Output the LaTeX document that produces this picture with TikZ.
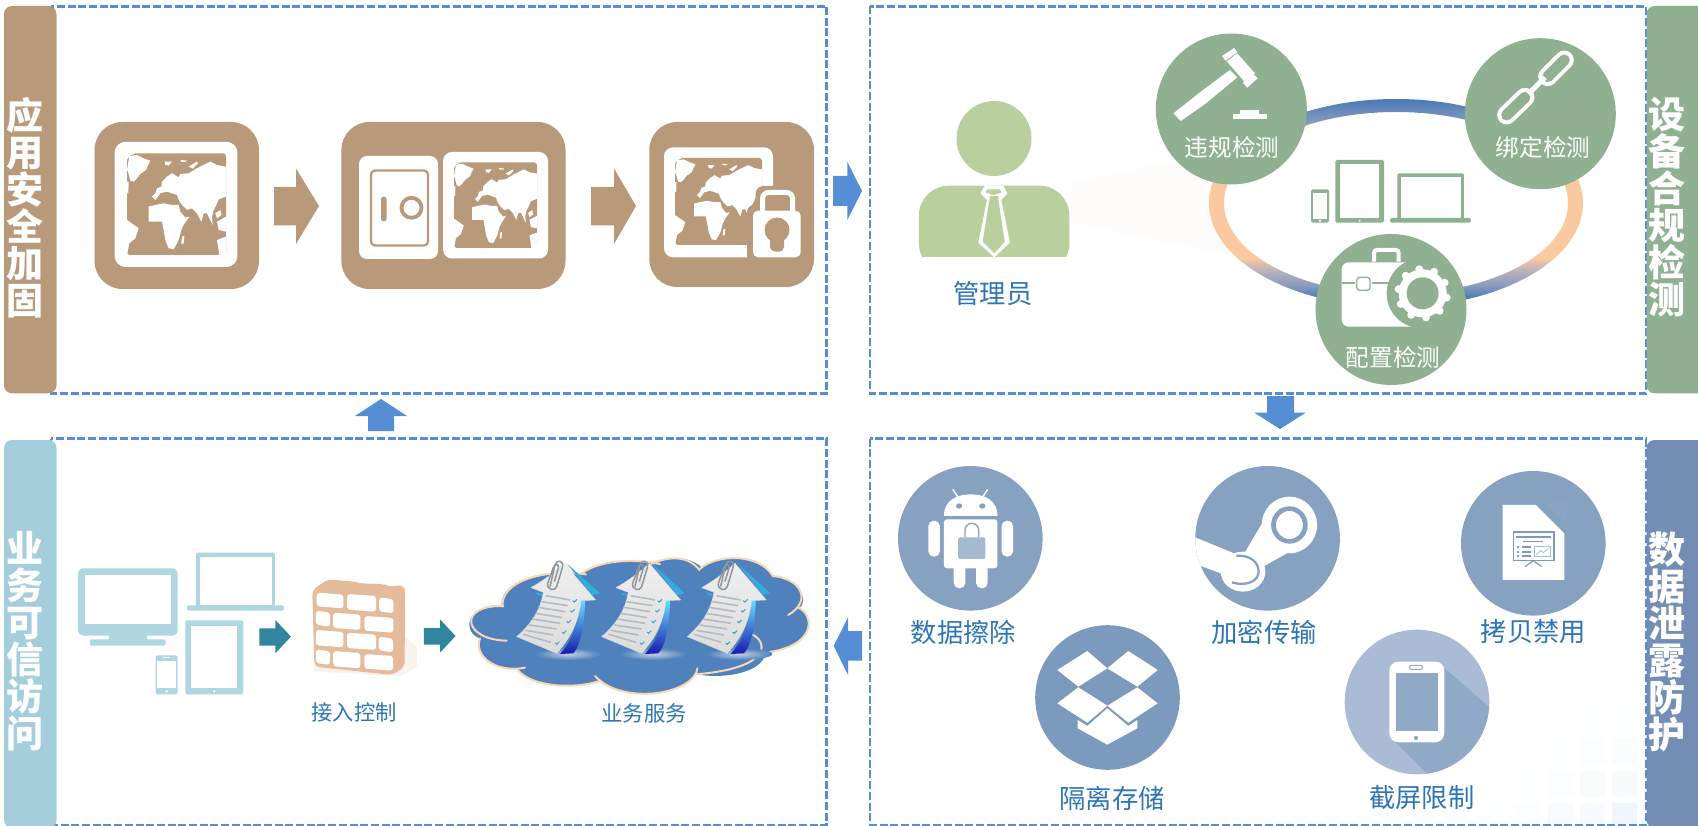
\documentclass[tikz,border=0pt]{standalone}
\usepackage{fontspec}
\newfontfamily\cjk{Noto Sans CJK SC}
\usetikzlibrary{shadings}
\definecolor{tan}{HTML}{B89A7B}
\definecolor{sage}{HTML}{8FB191}
\definecolor{sky}{HTML}{A4CEDC}
\definecolor{slateb}{HTML}{748DB5}
\definecolor{dashb}{HTML}{558ED5}
\definecolor{lblue}{HTML}{2E75B6}
\definecolor{devb}{HTML}{B0D6E2}
\definecolor{tealb}{HTML}{31859C}
\definecolor{leaf}{HTML}{B9D09E}
\definecolor{brick}{HTML}{E6BB9B}
\definecolor{cloudb}{HTML}{4F81BD}
\definecolor{peach}{HTML}{FCD5B5}
\definecolor{c1}{HTML}{87A1C1}
\definecolor{c2}{HTML}{7C9ABD}
\definecolor{c3}{HTML}{A9BBD5}
\definecolor{c4}{HTML}{90A9C7}
\definecolor{ringblue}{HTML}{4A79B8}
\definecolor{ringmid}{HTML}{8A9DBD}
\definecolor{ringor}{HTML}{FBC9A0}
\definecolor{ringgray}{HTML}{BDB2BA}
\definecolor{docline}{HTML}{B4BBC0}
\definecolor{check}{HTML}{3E9CC8}
\definecolor{clipg}{HTML}{8F9599}
\pgfdeclareverticalshading{ringsh}{100bp}{color(0bp)=(ringblue);color(25bp)=(ringblue);color(27bp)=(ringblue);color(30.3bp)=(ringmid);color(33.9bp)=(ringgray);color(36.8bp)=(ringor);color(65bp)=(ringor);color(69bp)=(ringmid);color(75bp)=(ringblue);color(100bp)=(ringblue)}
\tikzset{
  x=1pt,y=-1pt,
  panelbox/.style={draw=dashb,line width=2.6pt,dash pattern=on 8pt off 2.7pt},
  sidetext/.style={text=white,font=\cjk\bfseries\fontsize{37}{37}\selectfont,align=center,inner sep=0pt},
  lab/.style={text=lblue,font=\cjk\fontsize{26.3}{30}\selectfont,inner sep=0pt},
  smalllab/.style={text=lblue,font=\cjk\fontsize{21.3}{26}\selectfont,inner sep=0pt},
  whitelab/.style={text=white,font=\cjk\fontsize{23.6}{28}\selectfont,inner sep=0pt},
  z1/.style={shift={(70,90)},xscale=.4464,yscale=.3384},
  z2/.style={shift={(820,20)},xscale=.4337,yscale=.3333},
  z3/.style={shift={(60,490)},xscale=.4464,yscale=.3333},
  z4/.style={shift={(810,420)},xscale=.4464,yscale=.3333},
  z6/.style={shift={(1280,20)},xscale=.3333,yscale=.3333},
  z7/.style={shift={(1280,430)},xscale=.3333,yscale=.3333},
  z8/.style={shift={(460,540)},xscale=.3333,yscale=.3333},
  z9/.style={shift={(0,380)},xscale=.3333,yscale=.3333},
  z10/.style={shift={(1000,600)},xscale=.3333,yscale=.3333},
}
% world map drawn in a 297 x 305 box whose corner is (15,10)
\newcommand{\worldmapicon}[4]{%
\begin{scope}[shift={(#1,#2)},xscale=#3/297,yscale=#4/305,shift={(-15,-10)}]
\fill[tan,rounded corners=3pt] (15,10) rectangle (312,315);
\fill[white] (15,10)--(40,10)--(22,18)--(15,30)--cycle;
\fill[white] (22,18)--(45,15)--(65,25)--(85,32)--(78,45)--(72,60)--(55,72)--(45,85)--(35,95)--(25,92)--(18,65)--(15,60)--cycle;
\fill[white] (90,140)--(100,130)--(105,115)--(118,110)--(120,95)--(135,80)--(150,70)--(170,82)--(175,72)--(200,70)--(225,55)--(250,42)--(265,35)--(285,45)--(312,50)--(312,140)--(290,148)--(283,165)--(275,180)--(270,200)--(272,225)--(262,205)--(255,190)--(245,190)--(238,215)--(225,190)--(210,175)--(195,180)--(180,165)--(170,150)--(165,135)--(150,130)--(135,125)--(115,130)--(100,150)--cycle;
\fill[white] (80,170)--(100,165)--(125,160)--(150,165)--(170,165)--(175,185)--(190,203)--(202,200)--(185,225)--(178,240)--(170,270)--(155,298)--(140,295)--(130,270)--(125,240)--(120,215)--(80,215)--cycle;
\fill[white] (180,260)--(187,258)--(185,280)--(178,282)--cycle;
\fill[white] (285,215)--(312,200)--(312,245)--(290,240)--cycle;
\fill[white] (280,190)--(295,180)--(298,195)--(285,205)--cycle;
\fill[white] (128,35)--(150,35)--(140,47)--(130,45)--cycle;
\fill[white] (175,30)--(195,32)--(190,36)--(178,35)--cycle;
\fill[white] (200,50)--(225,35)--(228,40)--(212,56)--cycle;
\fill[white] (15,95)--(20,95)--(19,130)--(15,130)--cycle;
\fill[white] (15,210)--(50,235)--(40,265)--(22,280)--(15,315)--cycle;
\fill[white] (312,260)--(285,270)--(292,315)--(312,315)--cycle;
\end{scope}}
% document arrow, in crop coordinates of the first document
\newcommand{\docarrow}[1]{%
\begin{scope}[shift={(#1+135,45)}]
\shade[inner color=c4!55!white,outer color=cloudb] (190,297) ellipse [x radius=100,y radius=18];
\fill[blue!30!cyan!85!black!80!white] (185,25)--(285,115)--(262,120)--cycle;
\fill[blue!30!cyan!85!black!80!white] (92,112)--(115,118)--(112,124)--(98,120)--cycle;
\shade[top color=blue!20!cyan!60!white,bottom color=blue!65!black!90!white] (226,135)--(240,135) .. controls (240,200) and (228,270) .. (205,295)--(165,297) .. controls (205,255) and (222,195) .. (226,135)--cycle;
\shade[top color=gray!12,bottom color=gray!28,draw=white!70!gray,line width=.4pt] (178,25)--(272,135)--(228,137) .. controls (222,190) and (205,240) .. (155,295)--(35,245) .. controls (75,210) and (105,170) .. (115,112)--(78,98) .. controls (110,80) and (145,55) .. (178,25)--cycle;
\foreach \la/\lb/\ra/\rb in {122/122/195/135,110/140/188/152,100/157/180/170,92/175/172/188,82/192/165/205,72/210/155/222,62/226/145/240,55/238/138/262}{\draw[docline,line width=1.6pt] (\la,\lb)--(\ra,\rb);}
\foreach \a/\b in {210/138,203/168,192/200,178/232,157/265}{\draw[check,line width=1pt] (\a-7,\b-1)--(\a-2,\b+3)--(\a+6,\b-5);}
\draw[clipg,line width=1.5pt,line join=round] (135,95)--(150,30) .. controls (155,12) and (178,15) .. (172,38)--(155,95) .. controls (150,110) and (125,105) .. (128,85)--(145,38) .. controls (148,25) and (163,25) .. (160,40)--(148,80);
\end{scope}}
\begin{document}
\begin{tikzpicture}
\useasboundingbox (0,0) rectangle (1698,826);
% faint squares in the lower right
\foreach \a/\b/\c/\d/\f in {900/825/975/905/1,997/825/1072/905/1,803/925/878/1005/1,900/925/975/1005/2,997/925/1072/1005/3,705/1022/780/1100/1,803/1022/878/1100/2,900/1022/975/1100/4,997/1022/1072/1100/5,620/1120/680/1185/1,705/1120/780/1185/2,803/1120/878/1185/4,900/1120/975/1185/5,997/1120/1072/1185/8}{
  \begin{scope}[z7]\fill[dashb!\f!white] (\a,\b) rectangle (\c,\d);\end{scope}}
% panels
\draw[panelbox] (51,6.5) rectangle (826.7,393.3);
\draw[panelbox] (870,6.5) rectangle (1646,393.3);
\draw[panelbox] (51,438.7) rectangle (826.7,825);
\draw[panelbox] (870,438.7) rectangle (1646,825);
% side bars
\fill[tan,rounded corners=8pt] (4,6) rectangle (56.5,393.3);
\fill[sky,rounded corners=8pt] (4,440) rectangle (56.5,828);
\fill[sage,rounded corners=8pt] (1646.5,6) rectangle (1710,393.3);
\fill[slateb,rounded corners=8pt] (1646.5,440) rectangle (1710,828);
\node[sidetext] (tl) at (24.5,207.5) {应\\用\\安\\全\\加\\固};
\node[sidetext] (tr) at (1667,207.5) {设\\备\\合\\规\\检\\测};
\node[sidetext] (bl) at (24.5,641.5) {业\\务\\可\\信\\访\\问};
\node[sidetext] (br) at (1667,641.5) {数\\据\\泄\\露\\防\\护};
% block arrows between panels
\fill[dashb] (833,176)--(847.3,176)--(847.3,161.7)--(862,191)--(847.3,220)--(847.3,206)--(833,206)--cycle;
\fill[dashb] (1267,396)--(1294,396)--(1294,412.5)--(1306,412.5)--(1280,429)--(1254,412.5)--(1267,412.5)--cycle;
\fill[dashb] (368,431)--(394,431)--(394,416)--(407,416)--(381,399)--(355,416)--(368,416)--cycle;
\fill[dashb] (862,631)--(848,631)--(848,617.3)--(833.7,646)--(848,675)--(848,660.7)--(862,660.7)--cycle;
% tiles
\fill[tan,rounded corners=28pt] (94.5,122) rectangle (259,289);
\fill[white,rounded corners=11pt] (114.6,141.8) rectangle (237.4,267);
\worldmapicon{127}{153.3}{99}{101.7}
\fill[tan,rounded corners=28pt] (341.4,122) rectangle (565.5,289);
\fill[white,rounded corners=8pt] (359,156) rectangle (438,259);
\draw[tan,line width=2.2pt,rounded corners=4pt] (371,170.5) rectangle (428,245.5);
\fill[tan,rounded corners=2.5pt] (381,196.6) rectangle (386.5,221.3);
\draw[tan,line width=3.8pt] (411.5,207.8) circle [radius=10];
\fill[white,rounded corners=9pt] (443,152) rectangle (548,258.5);
\worldmapicon{454}{162.4}{83}{85.6}
\fill[tan,rounded corners=28pt] (649.3,122) rectangle (814,287);
\fill[white,rounded corners=9pt] (664,147.3) rectangle (773,257.3);
\worldmapicon{675}{158}{87}{87}
\fill[tan,rounded corners=7pt] (747,205) rectangle (808,270);
\fill[tan,rounded corners=8pt] (755.5,186) rectangle (800,215);
\fill[white,rounded corners=5pt] (753,210.7) rectangle (800.7,257.3);
\draw[white,line width=5pt,rounded corners=6pt] (762.5,212)--(762.5,192.5)--(792.5,192.5)--(792.5,212);
\fill[tan] (777,230) circle [radius=12.5];
\fill[tan,rounded corners=5pt] (770,232) rectangle (784,251.7);
% tile arrows
\fill[tan] (274,187)--(296,187)--(296,168.5)--(319,206)--(296,244)--(296,225.4)--(274,225.4)--cycle;
\fill[tan] (591,187)--(614,187)--(614,168.5)--(636,206)--(614,244)--(614,225.4)--(591,225.4)--cycle;
% administrator
\fill[white!97!tan] (1071.5,183)--(1188.6,158)--(1236,256.7)--(1069,221.7)--cycle;
\fill[leaf] (994,138.5) circle [radius=37.5];
\begin{scope}[z2]
\fill[leaf,rounded corners=30pt] (228,760)--(228,497)--(575,497)--(575,760)--cycle;
\fill[white] (220,712) rectangle (585,770);
\fill[white] (380,497)--(422,497)--(432,520)--(418,540)--(438,668)--(402,712)--(365,668)--(385,540)--(370,520)--cycle;
\fill[leaf] (385,508)--(415,508)--(418,518)--(400,525)--(382,518)--cycle;
\fill[leaf] (392,528)--(410,528)--(426,665)--(402,700)--(375,665)--cycle;
\end{scope}
\node[lab] (admin) at (993,294) {管理员};
% ring
\path[even odd rule,shade,shading=ringsh] (1396,203) ellipse [x radius=187,y radius=104] (1396,203) ellipse [x radius=172,y radius=91];
% devices in ring
\begin{scope}[z6]
\fill[sage,rounded corners=1.5pt] (93,508) rectangle (147,608);
\fill[white] (98,520) rectangle (142,597);
\fill[sage,rounded corners=1.5pt] (166,420) rectangle (312,608);
\fill[white] (181,433) rectangle (298,595);
\fill[sage,rounded corners=2pt] (352,460) rectangle (552,600);
\fill[white] (362,472) rectangle (543,594);
\fill[sage,rounded corners=2pt] (330,594) rectangle (573,608);
\fill[white] (120,602) circle [radius=4];
\fill[white] (239,602) circle [radius=3];
\end{scope}
% circles
\fill[sage] (1231.3,109) circle [radius=75.5];
\fill[sage] (1540.3,113.7) circle [radius=75.5];
\fill[sage] (1391,309.5) circle [radius=75.5];
% gavel
\begin{scope}[z2]
\fill[white] (927,108)--(955,84)--(962,97)--(935,122)--cycle;
\fill[white] (938,124)--(962,100)--(1003,160)--(978,184)--cycle;
\fill[white] (975,188)--(1000,163)--(1009,175)--(985,203)--cycle;
\fill[white] (945,150)--(962,172)--(890,250)--(832,303)--(815,280)--(875,218)--cycle;
\fill[white] (952,283) rectangle (1030,298);
\fill[white] (968,270) rectangle (1012,284);
\end{scope}
% chain
\begin{scope}[z6]
\draw[white,line width=19pt,line cap=round] (803,170)--(853,120);
\draw[sage,line width=11pt,line cap=round] (803,170)--(853,120);
\draw[white,line width=19pt,line cap=round] (680,285)--(735,232);
\draw[sage,line width=11pt,line cap=round] (680,285)--(735,232);
\draw[white,line width=5pt] (745,222)--(795,172);
% tool case
\fill[white,rounded corners=7pt] (185,920)--(185,727)--(400,727)--(440,920)--cycle;
\draw[white,line width=4pt,rounded corners=3pt] (282,725)--(282,690)--(356,690)--(356,725);
\draw[sage,line width=1.3pt] (185,789)--(225,789) (275,789)--(330,789);
\fill[white,rounded corners=3pt] (225,768) rectangle (275,815);
\draw[sage,line width=1.3pt,rounded corners=3pt] (230,772) rectangle (270,811);
\fill[sage] (425,820) circle [radius=105];
\foreach \t in {0,36,...,324}{\fill[white] ({428+73*cos(\t+10)},{820+73*sin(\t+10)}) circle [radius=12];}
\fill[white] (428,820) circle [radius=72];
\fill[sage] (428,820) circle [radius=48];
\end{scope}
\node[whitelab] (v1) at (1232,147) {违规检测};
\node[whitelab] (v2) at (1543,147) {绑定检测};
\node[whitelab] (v3) at (1393,357) {配置检测};
% access devices
\begin{scope}[z9]
\fill[devb,rounded corners=5pt] (234,565) rectangle (533,767);
\fill[white] (254,585) rectangle (513,731);
\fill[devb] (327,760) rectangle (440,780);
\fill[devb,rounded corners=2pt] (270,778) rectangle (497,797);
\fill[devb,rounded corners=2pt] (588,518) rectangle (825,680);
\fill[white] (600,532) rectangle (815,676);
\fill[devb,rounded corners=2pt] (561,676) rectangle (852,692);
\fill[devb,rounded corners=1.5pt] (556,721) rectangle (730,943);
\fill[white] (574,738) rectangle (712,925);
\fill[white] (643,934) circle [radius=3.5];
\fill[devb,rounded corners=1.5pt] (467,826) rectangle (533,943);
\fill[white] (472,842) rectangle (528,925);
\fill[white] (500,934) circle [radius=4];
\fill[white] (490,832) rectangle (510,835);
\fill[tealb] (778,745)--(826,745)--(826,720)--(873,770)--(826,820)--(826,797)--(778,797)--cycle;
\end{scope}
\fill[tealb] (423.8,628)--(440,628)--(440,619.3)--(455.5,636)--(440,652.7)--(440,644.7)--(423.8,644.7)--cycle;
% firewall
\begin{scope}[z3]
\fill[brick!18!white] (770,440)--(800,470)--(800,530)--(765,558)--(570,545)--(570,520)--cycle;
\fill[brick,rounded corners=5pt] (600,268)--(660,275)--(670,280)--(725,282)--(735,290)--(770,285)--(773,300)--(772,530)--(745,555)--(570,530)--(565,300)--cycle;
\foreach \xa/\ya/\xb/\yb in {575/308/635/355,643/312/708/365,715/322/747/370,573/362/605/410,612/368/673/420,682/378/747/428,573/420/635/472,643/428/708/480,714/440/746/487,573/478/605/525,612/483/673/535,682/492/746/542}{
  \fill[white,rounded corners=3pt] (\xa,\ya)--(\xb,\ya+6)--(\xb,\yb)--(\xa,\yb-6)--cycle;}
\end{scope}
\node[smalllab] (fw) at (354,712) {接入控制};
% cloud
\begin{scope}[z8]
\path[fill=cloudb] (125,195) .. controls (120,125) and (250,85) .. (365,100) .. controls (420,60) and (520,55) .. (580,72) .. controls (630,45) and (690,50) .. (725,82) -- (718,88) .. controls (770,40) and (900,40) .. (938,108) .. controls (1020,115) and (1050,190) .. (1015,205) .. controls (1065,225) and (1070,320) .. (915,338) .. controls (915,390) and (810,420) .. (708,403) .. controls (670,470) and (480,490) .. (405,410) -- (420,422) .. controls (340,450) and (210,440) .. (172,388) -- (195,383) .. controls (110,400) and (40,350) .. (60,295) .. controls (10,280) and (10,195) .. (125,195) -- cycle;
\draw[peach,line width=2pt,line cap=round] (128,200) .. controls (120,125) and (250,85) .. (378,103);
\draw[peach,line width=2pt,line cap=round] (365,100) .. controls (420,60) and (520,55) .. (600,72);
\draw[peach,line width=2pt,line cap=round] (575,72) .. controls (630,45) and (690,50) .. (718,90);
\draw[peach,line width=2pt,line cap=round] (718,88) .. controls (770,40) and (900,40) .. (938,108);
\draw[peach,line width=2pt,line cap=round] (938,108) .. controls (1020,115) and (1060,180) .. (985,225);
\draw[peach,line width=2pt,line cap=round] (1015,203) .. controls (1065,225) and (1070,320) .. (915,338);
\draw[peach,line width=2pt,line cap=round] (880,285) .. controls (925,310) and (930,385) .. (708,403) -- (712,385);
\draw[peach,line width=2pt,line cap=round] (708,400) .. controls (670,470) and (480,490) .. (405,408);
\draw[peach,line width=2pt,line cap=round] (422,422) .. controls (340,450) and (210,440) .. (172,388);
\draw[peach,line width=2pt,line cap=round] (195,383) .. controls (110,400) and (40,350) .. (60,295);
\draw[peach,line width=2pt,line cap=round] (140,302) .. controls (10,300) and (-10,195) .. (130,198);
\docarrow{0}
\docarrow{255}
\docarrow{512}
\end{scope}
\node[smalllab] (svc) at (644,713) {业务服务};
% data protection circles
\fill[c1] (970.3,538.3) circle [radius=72.3];
\fill[c1] (1267.6,538.3) circle [radius=72.3];
\fill[c1] (1533.3,543.3) circle [radius=72.3];
\fill[c2] (1107.5,697.5) circle [radius=72.3];
\fill[c3] (1417,702) circle [radius=72.3];
% android
\begin{scope}[z4]
\draw[white,line width=1.4pt] (320,208)--(333,235) (398,208)--(385,235);
\fill[white] (300,288) .. controls (300,240) and (330,223) .. (360,223) .. controls (390,223) and (420,240) .. (420,288) -- cycle;
\fill[c1] (334,258) ellipse [x radius=7,y radius=8];
\fill[c1] (386,258) ellipse [x radius=7,y radius=8];
\fill[white,rounded corners=3pt] (300,298) rectangle (420,445);
\fill[white,rounded corners=5.5pt] (265,302) rectangle (291,410);
\fill[white,rounded corners=5.5pt] (429,302) rectangle (455,410);
\fill[white,rounded corners=5.5pt] (322,430) rectangle (348,505);
\fill[white,rounded corners=5.5pt] (372,430) rectangle (398,505);
\draw[c1,line width=1.3pt,rounded corners=7pt] (347,352)--(347,310)--(378,310)--(378,352);
\fill[c1!75!white,rounded corners=2pt] (332,352) rectangle (393,417);
% steam
\fill[white] (1074,315) ellipse [x radius=62,y radius=85];
\fill[white] (1015,305)--(975,395)--(1015,440)--(1075,395)--cycle;
\fill[white] (970,455) ellipse [x radius=50,y radius=60];
\end{scope}
\begin{scope}
\clip (1267.6,538.3) circle [radius=72.3];
\begin{scope}[z4]
\fill[white] (850,345)--(950,400)--(930,465)--(860,430)--cycle;
\end{scope}
\end{scope}
\begin{scope}[z4]
\fill[c1] (1074,315) ellipse [x radius=41,y radius=56];
\fill[white] (1074,315) ellipse [x radius=30,y radius=42];
\draw[c1,line width=2.3pt] (955,407) .. controls (985,405) and (1005,425) .. (1005,455) .. controls (1005,485) and (975,500) .. (945,487);
\end{scope}
% presentation page
\begin{scope}[z7]
\fill[c2!90!white] (797,217)--(862,217)--(862,282)--cycle;
\fill[white] (668,225)--(768,225)--(853,310)--(853,450)--(668,450)--cycle;
\draw[c2,line width=1.1pt] (700,306) rectangle (822,392);
\draw[c2,line width=1.8pt] (708,320)--(812,320);
\draw[c2,line width=1.6pt] (730,335)--(790,335);
\foreach \b in {350,365,378}{\draw[c2,line width=2pt] (712,\b)--(718,\b) (725,\b)--(752,\b);}
\draw[c1!70!white,line width=.8pt] (762,350) rectangle (810,380);
\draw[c1!70!white,line width=.8pt] (768,375)--(782,362)--(790,368)--(805,355);
\draw[c2,line width=1.2pt] (760,392)--(735,410) (760,392)--(785,410);
\end{scope}
% dropbox
\begin{scope}[z10]
\fill[white] (172,210)--(262,153)--(322,205)--(235,260)--cycle;
\fill[white] (322,205)--(385,153)--(473,210)--(412,260)--cycle;
\fill[white] (172,310)--(235,262)--(322,317)--(262,368)--cycle;
\fill[white] (322,317)--(412,262)--(473,310)--(385,368)--cycle;
\fill[white] (233,360)--(262,378)--(322,325)--(385,378)--(412,360)--(412,385)--(322,434)--(233,385)--cycle;
\end{scope}
% phone
\begin{scope}
\clip (1417,702) circle [radius=72.3];
\begin{scope}[z7]
\fill[c4] (495,715)--(660,860)--(660,1060)--(470,1060)--(345,935)--cycle;
\end{scope}
\end{scope}
\begin{scope}[z7]
\fill[white,rounded corners=9pt] (328,695) rectangle (493,937);
\fill[c4] (348,730) rectangle (474,902);
\draw[c4,line width=.9pt,rounded corners=1.5pt] (388,706) rectangle (428,718);
\fill[c4] (408,924) circle [radius=6.5];
\end{scope}
% labels
\node[lab] (d1) at (963.5,632) {数据擦除};
\node[lab] (d2) at (1264,632) {加密传输};
\node[lab] (d3) at (1533.5,632) {拷贝禁用};
\node[lab] (d4) at (1112,798) {隔离存储};
\node[lab] (d5) at (1421.7,798) {截屏限制};
\end{tikzpicture}
\end{document}
